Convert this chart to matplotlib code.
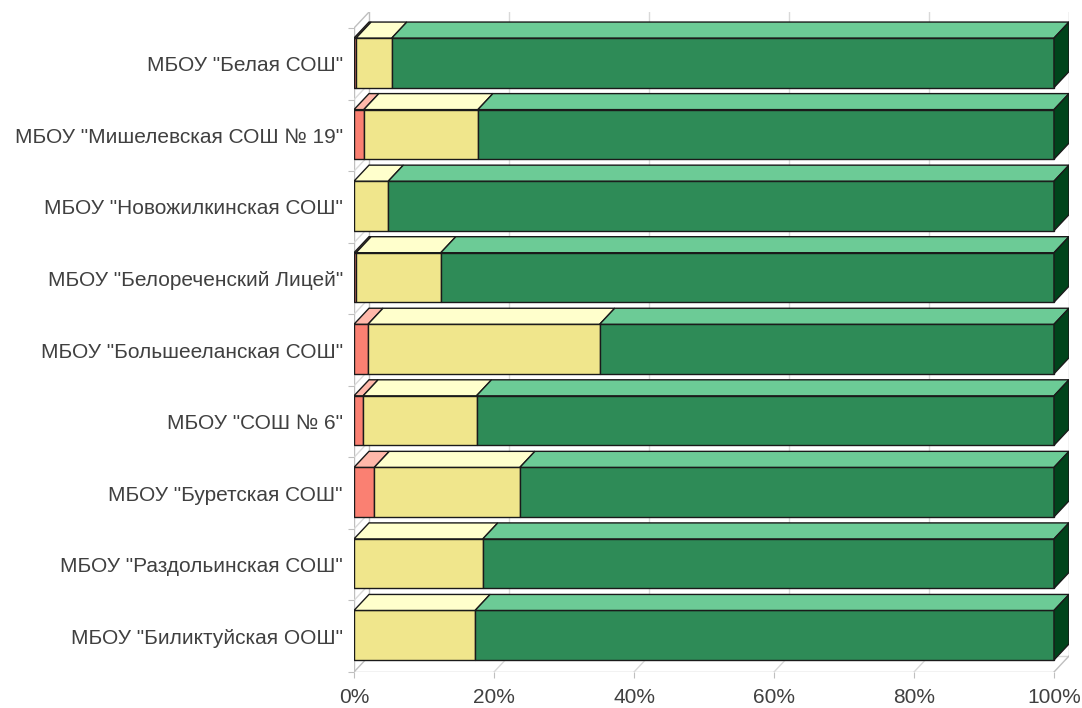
from __future__ import annotations

import matplotlib

matplotlib.use("Agg")
import matplotlib.pyplot as plt
from matplotlib.patches import Polygon

SCHOOLS = [
    'МБОУ "Белая СОШ"',
    'МБОУ "Мишелевская СОШ № 19"',
    'МБОУ "Новожилкинская СОШ"',
    'МБОУ "Белореченский Лицей"',
    'МБОУ "Большееланская СОШ"',
    'МБОУ "СОШ № 6"',
    'МБОУ "Буретская СОШ"',
    'МБОУ "Раздольинская СОШ"',
    'МБОУ "Биликтуйская ООШ"',
]
# shares in percent, left to right: red, yellow, green
LOW = [0.3, 1.4, 0.0, 0.3, 2.0, 1.3, 2.9, 0.0, 0.0]
MID = [5.1, 16.3, 4.9, 12.1, 33.1, 16.2, 20.8, 18.4, 17.3]
HIGH = [94.6, 82.3, 95.1, 87.6, 64.9, 82.5, 76.3, 81.6, 82.7]
X_TICKS = [0, 20, 40, 60, 80, 100]

# colours per segment: front, top, side
COLORS = [
    ("#FA8072", "#FFB8AA", "#B0503F"),
    ("#F0E68C", "#FFFFCC", "#B5AB55"),
    ("#2E8B57", "#6CCB96", "#00441B"),
]
EDGE = "#1A1A1A"
WALL = "#BFBFBF"
GRID = "#D9D9D9"
TEXT = "#404040"

FIG_W, FIG_H = 1082, 708
BAND_PX = 71.55
PX_PER_PCT = 7.0
DEPTH_X_PX, DEPTH_Y_PX = 15, 16
LEFT_PX, BOTTOM_PX = 354, 672

DX = DEPTH_X_PX / PX_PER_PCT
DY = DEPTH_Y_PX / BAND_PX
FRONT_TOP = -0.5 + 10 / BAND_PX
FRONT_BOT = -0.5 + 59.5 / BAND_PX


def configure_matplotlib() -> None:
    plt.rcParams["font.family"] = ["Liberation Sans", "DejaVu Sans"]
    plt.rcParams["figure.facecolor"] = "white"


def draw_walls(ax: plt.Axes, n: int) -> None:
    bottom, top = n - 0.5, -0.5
    line = dict(color=WALL, linewidth=1.0, zorder=1)
    # floor
    ax.plot([0, 100], [bottom, bottom], **line)
    ax.plot([DX, 100 + DX], [bottom - DY, bottom - DY], color=GRID, linewidth=1.0, zorder=1)
    for p in X_TICKS:
        ax.plot([p, p + DX], [bottom, bottom - DY], color=GRID if 0 < p < 100 else WALL, linewidth=1.0, zorder=1)
    # back wall gridlines
    for p in X_TICKS:
        ax.plot([p + DX, p + DX], [bottom - DY, top - DY], color=GRID if 0 < p < 100 else WALL, linewidth=1.0, zorder=1)
    # left wall
    ax.plot([0, 0], [bottom, top], **line)
    ax.plot([0, DX], [top, top - DY], **line)
    for k in range(1, n):
        ax.plot([0, DX], [k - 0.5, k - 0.5 - DY], color=GRID, linewidth=1.0, zorder=1)


def draw_bar(ax: plt.Axes, row: int, shares: list[float]) -> None:
    y0 = row + FRONT_TOP
    y1 = row + FRONT_BOT
    start = 0.0
    last = None
    for share, (front, top, side) in zip(shares, COLORS, strict=True):
        if share <= 0:
            continue
        end = start + share
        ax.add_patch(Polygon([(start, y0), (end, y0), (end, y1), (start, y1)],
                             closed=True, facecolor=front, edgecolor=EDGE, linewidth=1.0, zorder=3))
        ax.add_patch(Polygon([(start, y0), (end, y0), (end + DX, y0 - DY), (start + DX, y0 - DY)],
                             closed=True, facecolor=top, edgecolor=EDGE, linewidth=1.0, zorder=3))
        last = (end, side)
        start = end
    end, side = last
    ax.add_patch(Polygon([(end, y0), (end + DX, y0 - DY), (end + DX, y1 - DY), (end, y1)],
                         closed=True, facecolor=side, edgecolor=EDGE, linewidth=1.0, zorder=3))


def plot_chart() -> None:
    fig = plt.figure(figsize=(FIG_W / 100, FIG_H / 100), dpi=100)
    n = len(SCHOOLS)
    ax_w = (100 + DX) * PX_PER_PCT
    ax_h = (n + DY) * BAND_PX
    ax = fig.add_axes([LEFT_PX / FIG_W, (FIG_H - BOTTOM_PX) / FIG_H, ax_w / FIG_W, ax_h / FIG_H])
    ax.set_xlim(0, 100 + DX)
    ax.set_ylim(n - 0.5, -0.5 - DY)
    for spine in ax.spines.values():
        spine.set_visible(False)

    draw_walls(ax, n)
    for row, shares in enumerate(zip(LOW, MID, HIGH, strict=True)):
        draw_bar(ax, row, list(shares))

    ax.set_xticks(X_TICKS, [f"{p}%" for p in X_TICKS])
    ax.set_yticks([k - 0.5 for k in range(n + 1)], [""] * (n + 1))
    ax.set_yticks(range(n), SCHOOLS, minor=True)
    ax.tick_params(axis="x", length=4.5, color=WALL, pad=7, labelsize=15, labelcolor=TEXT)
    ax.tick_params(axis="y", which="major", length=4, color=WALL)
    ax.tick_params(axis="y", which="minor", length=0, pad=8, labelsize=15, labelcolor=TEXT)

    fig.savefig("out.png", dpi=100)
    plt.close(fig)


def main() -> None:
    configure_matplotlib()
    plot_chart()


if __name__ == "__main__":
    main()
